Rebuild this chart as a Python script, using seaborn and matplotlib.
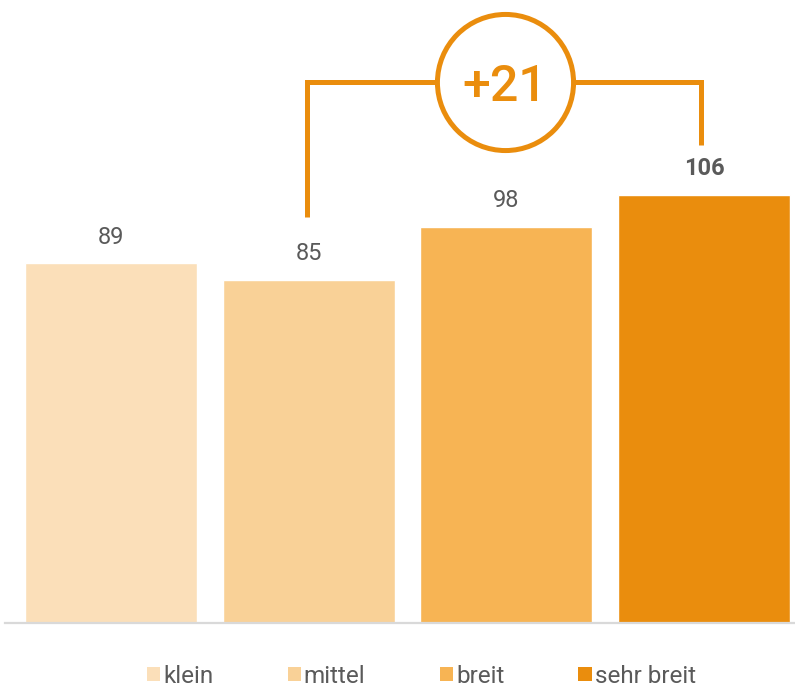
import matplotlib
matplotlib.use("Agg")
import matplotlib.pyplot as plt
from matplotlib.patches import Patch
import seaborn as sns
import pandas as pd

categories = ["klein", "mittel", "breit", "sehr breit"]
values = [89, 85, 98, 106]
colors = ["#FBDFB9", "#F9D197", "#F7B454", "#EA8D0D"]
diff_label = "+21"

accent = "#EA8D0D"
text_gray = "#5A5A5A"

sns.set_theme(style="white")
plt.rcParams["font.family"] = ["Roboto", "DejaVu Sans"]

df = pd.DataFrame({"Kategorie": categories, "Wert": values})

fig = plt.figure(figsize=(7.95, 6.88), dpi=100)
ax = fig.add_axes([5 / 795, 65 / 688, 790 / 795, 623 / 688])

sns.barplot(data=df, x="Kategorie", y="Wert", hue="Kategorie",
            palette=colors, width=0.87, dodge=False, legend=False,
            saturation=1, ax=ax)

ax.set_xlim(-0.536, 3.46)
ax.set_ylim(0, 154.2)
ax.set_xlabel("")
ax.set_ylabel("")
ax.set_xticks([])
ax.set_yticks([])
for side in ["left", "right", "top"]:
    ax.spines[side].set_visible(False)
ax.spines["bottom"].set_color("#D9D9D9")
ax.spines["bottom"].set_linewidth(1.6)

# value labels above the bars
for i, v in enumerate(values):
    weight = "bold" if i == len(values) - 1 else "normal"
    ax.text(i, v + 6.5, f"{v}", ha="center", va="center",
            fontsize=17, color=text_gray, fontweight=weight)

# bracket between "mittel" and "sehr breit" with the difference in a circle
y_top = 133.8
lw = 3.6
ax.plot([0.99, 0.99, 2], [values[1] + 15.5, y_top, y_top], color=accent, lw=lw,
        solid_joinstyle="miter", solid_capstyle="butt")
ax.plot([2, 2.985, 2.985], [y_top, y_top, values[3] + 12.3], color=accent, lw=lw,
        solid_joinstyle="miter", solid_capstyle="butt")
ax.plot([1.993], [y_top], marker="o", markersize=98, markerfacecolor="white",
        markeredgecolor=accent, markeredgewidth=lw, clip_on=False)
ax.text(1.993, y_top, diff_label, ha="center", va="center_baseline",
        fontsize=36, color=accent, fontweight="medium")

handles = [Patch(facecolor=c, edgecolor="none", label=l)
           for c, l in zip(colors, categories)]
fig.legend(handles=handles, loc="center", bbox_to_anchor=(0.53, 0.0174),
           ncol=4, frameon=False, fontsize=17.5, labelcolor=text_gray,
           handlelength=0.55, handleheight=0.55, handletextpad=0.12,
           columnspacing=3.05, borderpad=0)

fig.savefig("out.png", dpi=100, facecolor="white")
